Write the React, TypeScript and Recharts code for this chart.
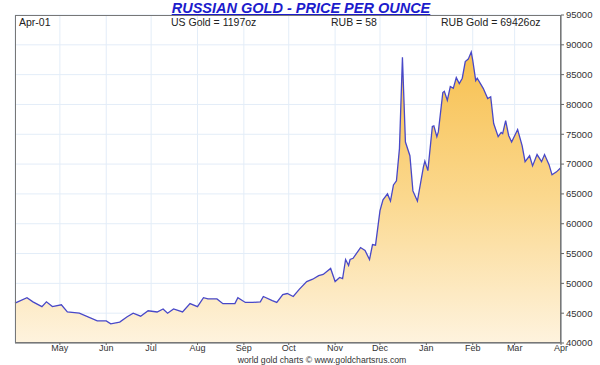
import React from 'react';
import { AreaChart, Area, XAxis, YAxis, CartesianGrid } from 'recharts';

// days counted from Apr-01, price in roubles per ounce
const days = [
  0, 8, 12, 18, 21, 25, 31, 35, 43, 55, 61, 64, 70, 75, 79, 84, 89, 95, 99, 102,
  106, 112, 117, 122, 126, 129, 135, 139, 147, 149, 154, 159, 164, 166, 172, 175, 179, 182, 186, 190,
  195, 199, 203, 206, 211, 214, 217, 219, 221, 223, 224, 226, 231, 234, 237, 239, 241, 244, 246, 249,
  251, 253, 255, 257, 259, 261, 264, 266, 269, 273, 274, 276, 279, 280, 282, 283, 286, 287, 289, 291,
  293, 295, 297, 299, 301, 303, 305, 306, 308, 309, 313, 316, 318, 320, 323, 325, 326, 328, 330, 332,
  336, 339, 341, 344, 346, 349, 352, 354, 357, 359, 362, 365,
];
const rubPrice = [
  46700, 47600, 46900, 46100, 46900, 46100, 46400, 45200, 45000, 43700, 43700, 43200, 43500, 44400, 45000, 44500, 45400, 45200, 45700, 45000,
  45700, 45200, 46600, 46100, 47600, 47400, 47400, 46600, 46600, 47600, 46800, 46800, 46900, 47800, 47100, 46800, 48100, 48300, 47800, 49000,
  50300, 50700, 51300, 51500, 52500, 50300, 51000, 50800, 54000, 53000, 54000, 54200, 56000, 55500, 54000, 56500, 56400, 62200, 64000, 65000,
  63800, 66500, 67200, 72600, 87900, 73700, 71400, 65500, 63800, 69500, 70500, 68900, 76300, 76400, 74600, 75400, 82000, 82200, 80700, 83000,
  82700, 84500, 83500, 84400, 87200, 87600, 88800, 87400, 84000, 84400, 82700, 81000, 81300, 76800, 74600, 75300, 75100, 77300, 74800, 73700,
  75800, 73100, 70400, 71400, 69700, 71600, 70400, 71600, 69900, 68200, 68700, 69426,
];

const monthTicks = [30, 61, 91, 122, 153, 183, 214, 244, 275, 306, 334, 365];
const monthLabels = ['May', 'Jun', 'Jul', 'Aug', 'Sep', 'Oct', 'Nov', 'Dec', 'Jan', 'Feb', 'Mar', 'Apr'];
const priceTicks = [40000, 45000, 50000, 55000, 60000, 65000, 70000, 75000, 80000, 85000, 90000, 95000];

const data = days.map((d, i) => ({ day: d, price: rubPrice[i] }));

const font = '"Liberation Sans", Arial, sans-serif';

const headerText: React.CSSProperties = {
  position: 'absolute',
  top: 17,
  fontFamily: font,
  fontSize: 10.5,
  lineHeight: '10px',
  color: '#222',
  whiteSpace: 'nowrap',
};

export default function App() {
  return (
    <div style={{ position: 'relative', width: 600, height: 365, background: '#fff', fontFamily: font }}>
      <style>{'body{margin:0}'}</style>
      <AreaChart width={600} height={365} data={data} margin={{ top: 15, right: 3, left: 15, bottom: 11 }}>
        <defs>
          <linearGradient id="goldFill" x1="0" y1="0" x2="0" y2="1">
            <stop offset="0%" stopColor="#f7c04f" />
            <stop offset="50%" stopColor="#fbd88e" />
            <stop offset="100%" stopColor="#fef3de" />
          </linearGradient>
        </defs>
        <CartesianGrid stroke="#e3edf8" />
        <XAxis
          dataKey="day"
          type="number"
          domain={[0, 365]}
          ticks={monthTicks}
          tickFormatter={(v) => monthLabels[monthTicks.indexOf(v)] ?? ''}
          height={11}
          tickSize={2}
          tickMargin={0}
          interval={0}
          stroke="#666"
          tick={{ fill: '#333', fontSize: 9, fontFamily: font }}
        />
        <YAxis
          orientation="right"
          domain={[40000, 95000]}
          ticks={priceTicks}
          interval={0}
          width={36}
          tickSize={3}
          tickMargin={2}
          stroke="#666"
          tick={{ fill: '#333', fontSize: 9.5, fontFamily: font }}
        />
        <Area
          type="linear"
          dataKey="price"
          stroke="#4848c8"
          strokeWidth={1.3}
          fill="url(#goldFill)"
          fillOpacity={1}
          isAnimationActive={false}
          dot={false}
          activeDot={false}
        />
      </AreaChart>

      <div
        style={{
          position: 'absolute',
          left: 15,
          top: 15,
          width: 546,
          height: 328,
          border: '1px solid #777',
          boxSizing: 'border-box',
          pointerEvents: 'none',
        }}
      />

      <div
        style={{
          position: 'absolute',
          top: 0,
          left: 0,
          width: 602,
          textAlign: 'center',
          fontFamily: font,
          fontSize: 14.5,
          lineHeight: '17px',
          fontWeight: 'bold',
          fontStyle: 'italic',
          textDecoration: 'underline',
          color: '#1c1ccc',
        }}
      >
        RUSSIAN GOLD - PRICE PER OUNCE
      </div>

      <div style={{ ...headerText, left: 19 }}>Apr-01</div>
      <div style={{ ...headerText, left: 171 }}>US Gold = 1197oz</div>
      <div style={{ ...headerText, left: 331 }}>RUB = 58</div>
      <div style={{ ...headerText, left: 441 }}>RUB Gold = 69426oz</div>

      <div
        style={{
          position: 'absolute',
          top: 355,
          left: 0,
          width: 644,
          textAlign: 'center',
          fontFamily: font,
          fontSize: 8.7,
          lineHeight: '10px',
          color: '#333',
        }}
      >
        world gold charts © www.goldchartsrus.com
      </div>
    </div>
  );
}
